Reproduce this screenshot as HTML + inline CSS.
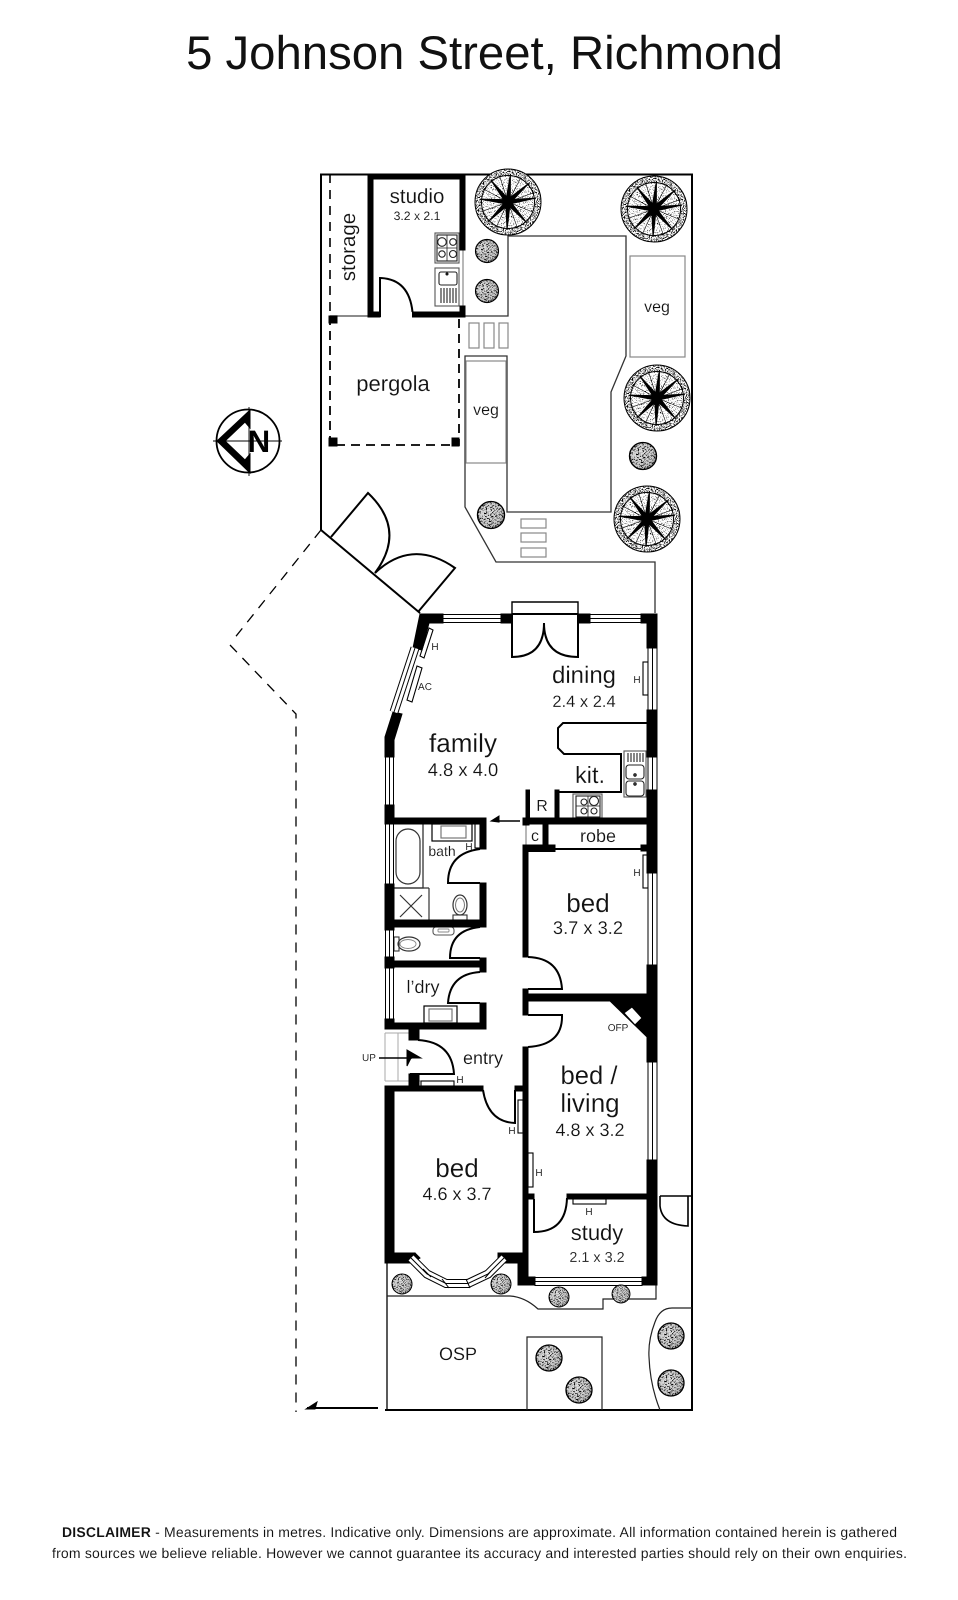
<!DOCTYPE html>
<html><head><meta charset="utf-8"><title>5 Johnson Street, Richmond</title>
<style>html,body{margin:0;padding:0;background:#fff}svg{display:block}
text{font-family:"Liberation Sans",sans-serif;fill:#111;text-anchor:middle;text-rendering:geometricPrecision;stroke:#fff;stroke-width:.14px}
text.t{stroke:none;fill:#111}text.n{stroke:none;fill:#000}text.s{stroke-width:.06px}</style></head>
<body>
<svg width="958" height="1600" viewBox="0 0 958 1600" xmlns="http://www.w3.org/2000/svg">
<defs>
<filter id="st" x="0" y="0" width="1" height="1"><feTurbulence type="fractalNoise" baseFrequency="0.85" numOctaves="2" seed="4"/><feColorMatrix values="0 0 0 0 0 0 0 0 0 0 0 0 0 0 0 7 0 0 0 -3.4"/><feComposite in2="SourceAlpha" operator="in"/></filter>
<filter id="st2" x="0" y="0" width="1" height="1"><feTurbulence type="fractalNoise" baseFrequency="0.9" numOctaves="2" seed="7"/><feColorMatrix values="0 0 0 0 0 0 0 0 0 0 0 0 0 0 0 7 0 0 0 -4.1"/><feComposite in2="SourceAlpha" operator="in"/></filter>
<filter id="st3" x="0" y="0" width="1" height="1"><feTurbulence type="fractalNoise" baseFrequency="0.85" numOctaves="2" seed="11"/><feColorMatrix values="0 0 0 0 0 0 0 0 0 0 0 0 0 0 0 6 0 0 0 -3.1"/><feComposite in2="SourceAlpha" operator="in"/></filter>
<path id="br" d="M0,-2.3 L28,0 L0,2.3Z" fill="#000"/>
<line id="sp" x1="3" y1="0" x2="28" y2="0" stroke="#000" stroke-width=".6"/>
<g id="tree">
<circle r="33" fill="#fff"/>
<circle r="33" fill="#000" filter="url(#st)"/>
<circle r="26.5" fill="#fff"/>
<circle r="26.5" fill="#000" filter="url(#st2)"/>
<use href="#sp" transform="rotate(22)"/><use href="#sp" transform="rotate(70)"/><use href="#sp" transform="rotate(115)"/><use href="#sp" transform="rotate(160)"/><use href="#sp" transform="rotate(208)"/><use href="#sp" transform="rotate(252)"/><use href="#sp" transform="rotate(298)"/><use href="#sp" transform="rotate(340)"/>
<use href="#br" transform="rotate(-8)"/><use href="#br" transform="rotate(48)"/><use href="#br" transform="rotate(92)"/><use href="#br" transform="rotate(135)"/><use href="#br" transform="rotate(186)"/><use href="#br" transform="rotate(232)"/><use href="#br" transform="rotate(275)"/><use href="#br" transform="rotate(318)"/>
<circle r="4" fill="#000"/>
</g>
<radialGradient id="sg" cx=".4" cy=".4" r=".7"><stop offset="0" stop-color="#e2e2e2"/><stop offset=".7" stop-color="#c8c8c8"/><stop offset="1" stop-color="#8a8a8a"/></radialGradient>
<g id="shrub"><circle r="10" fill="url(#sg)"/><circle r="10" fill="#000" filter="url(#st3)"/></g>
</defs>
<rect width="958" height="1600" fill="#fff"/>

<text class="t" x="484.5" y="69" font-size="47.3">5 Johnson Street, Richmond</text>

<!-- site boundary -->
<g fill="none" stroke="#000">
<path d="M321,530V174.5H692V1410H385" stroke-width="2"/>
<path d="M321,530L420,613" stroke-width="2"/>
<path d="M321,530L233,640M230,645L296,714V1412" stroke-width="1.3" stroke-dasharray="10 8"/>
<path d="M330,174V316" stroke-width="1.6" stroke-dasharray="9 7"/>
<path d="M330,316V445H459V316" stroke-width="1.8" stroke-dasharray="9 6"/>
<path d="M330,316H368" stroke="#666" stroke-width="1.4"/>
<!-- garden -->
<path d="M465,316H508V236H626V356L611,392V512H507V356H465V507L496,562H655V613" stroke="#333" stroke-width="1.3"/>
<path d="M387,1263V1410" stroke-width="1.3"/>
<path d="M387,1296H510Q525,1297 538,1309H603V1299H656V1285" stroke="#222" stroke-width="1.2"/>
<path d="M527,1410V1337H602V1410" stroke="#222" stroke-width="1.2"/>
<path d="M692,1308H672Q660,1308 655,1322Q648,1340 649,1357Q650,1385 660,1410" stroke="#222" stroke-width="1.2"/>
<path d="M307,1408H378" stroke-width="2"/>
<!-- grey rects -->
<g stroke="#888" stroke-width="1.2">
<rect x="630" y="256" width="55" height="101"/><rect x="466" y="361" width="40" height="102"/>
<rect x="469" y="323" width="10" height="25"/><rect x="484" y="323" width="10" height="25"/><rect x="499" y="323" width="9" height="25"/>
<rect x="521" y="519" width="25" height="9"/><rect x="521" y="533" width="25" height="9"/><rect x="521" y="548" width="25" height="9"/>
</g>
<!-- gate leaves -->
<g stroke-width="2">
<path d="M331,537L368,493Q407,530 375,573"/>
<path d="M418,612L455,568Q412,538 375,573"/>
<!-- studio door -->
<path d="M380,317V278Q409,279 412.5,312"/>
<!-- dining door -->
<path d="M512,614V602H578V614" stroke-width="1.4"/>
<path d="M512,614V657Q544,657 544,623Q544,657 578,657V614M512,614H578"/>
<!-- bath/wc/ldry doors -->
<path d="M480,849Q448,853 448,883H480"/>
<path d="M480,927Q450,930 450,958H480"/>
<path d="M480,972Q450,974 448,1003H480"/>
<!-- entry doors -->
<path d="M418,1040Q452,1042 454,1074H410"/>
<path d="M483,1090Q488,1122 515,1123V1090"/>
<!-- bed/living doors -->
<path d="M528,957Q560,958 562,989H528"/>
<path d="M528,1015H562Q563,1045 528,1047"/>
<path d="M534,1199V1232Q566,1232 567,1198"/>
<!-- gate side -->
<path d="M660,1196H692M660,1196V1206Q662,1225 688,1226V1196" stroke-width="1.6"/>
<!-- kitchen bench -->
<path d="M647,723H563L558,728V748L564,754H621V792H558"/>
<!-- robe -->
<path d="M555,849H642" stroke-width="2"/>
<path d="M526,825V846" stroke="#888" stroke-width="1.2"/>
<!-- arrow -->
<path d="M520,821H494" stroke-width="1.4"/>
<!-- bath fixtures -->
<path d="M423,824V888H394" stroke="#333" stroke-width="1.3"/>
<rect x="396" y="829" width="24" height="55" rx="12" stroke="#333" stroke-width="1.2"/>
<path d="M429,888V920M400,895L422,917M422,895L400,917" stroke="#333" stroke-width="1.2"/>
<path d="M394,888H429" stroke="#333" stroke-width="1.2"/>
<rect x="432" y="824" width="40" height="17" stroke-width="1.2"/>
<rect x="441" y="826" width="25" height="12" stroke="#777" stroke-width="1.2"/>
<rect x="475" y="824" width="5" height="24" stroke-width="1.1"/>
<ellipse cx="460" cy="905" rx="7" ry="10" stroke="#333" stroke-width="1.2"/>
<ellipse cx="460" cy="905" rx="4.5" ry="7" stroke="#777" stroke-width="1"/>
<rect x="453" y="915" width="14" height="5" stroke="#333" stroke-width="1.1"/>
<rect x="433" y="927" width="21" height="8" rx="3" stroke="#555" stroke-width="1.1"/>
<rect x="438" y="929" width="11" height="3" rx="1" stroke="#888" stroke-width=".9"/>
<rect x="394" y="937" width="5" height="14" stroke="#333" stroke-width="1.1"/>
<ellipse cx="409" cy="944" rx="11" ry="7" stroke="#333" stroke-width="1.2"/>
<ellipse cx="408" cy="944" rx="8" ry="4.5" stroke="#888" stroke-width=".9"/>
<rect x="424" y="1006" width="33" height="17" stroke-width="1.2"/>
<rect x="429" y="1009" width="23" height="12" stroke="#777" stroke-width="1.2"/>
<!-- stairs -->
<path d="M385,1033H410M385,1081H421M398,1033V1081M385,1033V1081" stroke="#aaa" stroke-width="1"/>
<!-- heaters -->
<g stroke-width="1.1">
<path d="M429,628L433,630L424,658L420,656Z"/><path d="M417,666L422,668L412,702L407,700Z"/>
<rect x="643" y="662" width="5" height="33"/><rect x="643" y="855" width="5" height="33"/>
<rect x="421" y="1081" width="33" height="5"/><rect x="518" y="1100" width="5" height="33"/>
<rect x="528" y="1153" width="5" height="34"/><rect x="573" y="1199" width="33" height="5"/>
</g>
<!-- studio appliances -->
<g stroke="#555" stroke-width="1.1">
<rect x="435" y="233" width="24" height="30"/><rect x="437" y="235" width="20" height="26" stroke="#222"/>
<rect x="435" y="268" width="24" height="38"/>
<rect x="439" y="272" width="18" height="13" rx="2" stroke="#222"/>
<path d="M441,288V303M444,288V303M447,288V303M450,288V303M453,288V303M456,288V303" stroke="#222"/>
<path d="M437,248H457M447,235V261" stroke="#222" stroke-width=".8"/>
<circle cx="442" cy="242" r="4.3" fill="#fff" stroke="#222"/><circle cx="453" cy="242" r="3.3" fill="#fff" stroke="#222"/>
<circle cx="442" cy="254" r="3.2" fill="#fff" stroke="#222"/><circle cx="453" cy="254" r="3.5" fill="#fff" stroke="#222"/>
<!-- kitchen appliances -->
<rect x="624" y="751" width="22" height="46"/>
<path d="M628,753V762M631,753V762M634,753V762M637,753V762M640,753V762M643,753V762" stroke="#222"/>
<rect x="626" y="765" width="18" height="14" rx="3" stroke="#222"/><rect x="626" y="781" width="18" height="15" rx="3" stroke="#222"/>
<rect x="573" y="794" width="29" height="24"/><rect x="576" y="796" width="24" height="21" stroke="#222"/>
<path d="M576,806H600M588,796V817" stroke="#222" stroke-width=".8"/>
<circle cx="584" cy="802" r="3" fill="#fff" stroke="#222"/><circle cx="594" cy="801" r="4.5" fill="#fff" stroke="#222"/>
<circle cx="584" cy="811" r="3" fill="#fff" stroke="#222"/><circle cx="594" cy="811" r="3" fill="#fff" stroke="#222"/>
</g>
<path d="M463,250V312" stroke="#888" stroke-width="1.2"/>
</g>
<circle cx="447" cy="274" r="1" fill="#777"/><circle cx="635" cy="775" r="1.2" fill="#777"/><circle cx="635" cy="784" r="1.2" fill="#777"/>

<!-- pergola posts, wall fills -->
<g fill="#000">
<rect x="329" y="316" width="8" height="7"/><rect x="329" y="438" width="8" height="8"/><rect x="452" y="438" width="7" height="8"/>
<!-- studio -->
<rect x="368" y="174" width="97" height="5"/><rect x="368" y="174" width="5" height="143"/>
<rect x="460" y="174" width="5" height="76"/><rect x="368" y="312" width="12" height="5"/><rect x="412.5" y="312" width="52.5" height="5"/><rect x="460" y="306" width="5" height="11"/>
<!-- north wall -->
<rect x="420" y="614" width="23" height="9"/><rect x="501" y="614" width="11" height="9"/><rect x="578" y="614" width="12" height="9"/><rect x="641" y="614" width="16" height="9"/>
<!-- east wall -->
<rect x="647" y="614" width="10" height="34"/><rect x="647" y="710" width="10" height="47"/><rect x="647" y="790" width="10" height="83"/>
<rect x="647" y="965" width="10" height="97"/><rect x="647" y="1160" width="10" height="125"/>
<!-- angled wall -->
<path d="M420,614L429,623L422,650L413,648Z"/>
<path d="M393,712L402,714L394,740V757H385V737Z"/>
<!-- west wall -->
<rect x="385" y="805" width="9" height="19"/><rect x="385" y="884" width="9" height="46"/><rect x="385" y="957" width="9" height="11"/><rect x="385" y="1019" width="9" height="10"/>
<rect x="385" y="818" width="101" height="6"/><rect x="480" y="818" width="6" height="31"/><rect x="480" y="883" width="6" height="44"/>
<rect x="394" y="920" width="92" height="7"/><rect x="385" y="961" width="101" height="6"/><rect x="480" y="958" width="6" height="14"/>
<rect x="480" y="1003" width="6" height="26"/><rect x="385" y="1023" width="101" height="6"/>
<rect x="409" y="1028" width="10" height="12"/><rect x="409" y="1074" width="10" height="12"/>
<rect x="385" y="1086" width="98" height="5"/><rect x="385" y="1086" width="9" height="177"/>
<rect x="515" y="1086" width="13" height="5"/>
<rect x="385" y="1253" width="30" height="10"/><rect x="498" y="1253" width="30" height="10"/>
<path d="M415,1253L420,1258L412,1263H405Z"/>
<!-- centre wall -->
<rect x="523" y="818" width="134" height="6"/><rect x="523" y="818" width="6" height="7"/>
<rect x="526" y="790" width="3.5" height="28"/><rect x="555" y="790" width="4" height="28"/>
<rect x="543" y="824" width="5" height="25"/><rect x="523" y="845" width="32" height="6.5"/><rect x="641" y="845" width="7" height="6"/>
<rect x="523" y="845" width="5" height="112"/>
<rect x="523" y="989" width="5" height="26"/><rect x="528" y="994" width="120" height="7"/>
<path d="M610,1001L622,994H648V1038Z"/>
<rect x="523" y="1047" width="5" height="208"/>
<rect x="528" y="1194" width="6" height="5"/><rect x="567" y="1194" width="81" height="5"/>
<rect x="518" y="1253" width="10" height="32"/><rect x="518" y="1277" width="17" height="8"/>
<rect x="642" y="1277" width="15" height="8"/><rect x="648" y="1190" width="9" height="90"/>
<!-- arrow heads -->
<path d="M491,821L499,816V822Z"/>
<path d="M306,1409L317,1402L315,1409Z"/>
<path d="M421,1058L407,1050V1066L411,1058Z"/>
</g>
<path d="M379,1058H412" stroke="#000" stroke-width="1.6"/>
<path d="M632,1007L642,1018L635,1025L624,1013Z" fill="#fff"/>

<!-- windows -->
<g fill="#fff" stroke="#000" stroke-width="1">
<rect x="443" y="614.5" width="58" height="8"/><rect x="590" y="614.5" width="51" height="8"/>
<rect x="648" y="648" width="9" height="62"/><rect x="648" y="757" width="9" height="33"/><rect x="648" y="873" width="9" height="92"/><rect x="648" y="1062" width="9" height="98"/>
<rect x="385.5" y="757" width="8" height="48"/><rect x="385.5" y="824" width="8" height="60"/><rect x="385.5" y="930" width="8" height="27"/><rect x="385.5" y="968" width="8" height="51"/>
<rect x="535" y="1277.5" width="107" height="8"/>
</g>
<g stroke="#000" stroke-width="1" fill="none">
<path d="M443,618.5H501M590,618.5H641M652.5,648V710M652.5,757V790M652.5,873V965M652.5,1062V1160M389.5,757V805M389.5,824V884M389.5,930V957M389.5,968V1019M535,1281.5H642"/>
<path d="M415,648L394,712" stroke-width="9"/><path d="M415,648L394,712" stroke="#fff" stroke-width="7"/><path d="M415,648L394,712"/>
<path d="M411,1258L427,1274L446,1283.5H468L488,1274L504,1258" stroke-width="9"/>
<path d="M411,1258L427,1274L446,1283.5H468L488,1274L504,1258" stroke="#fff" stroke-width="7"/>
<path d="M411,1258L427,1274L446,1283.5H468L488,1274L504,1258"/>
<path d="M423,1269L431,1277M442,1279L449,1288M466,1279L470,1288M485,1278L491,1271"/>
</g>

<!-- compass -->
<g>
<circle cx="248" cy="441" r="31.5" fill="none" stroke="#000" stroke-width="1.8"/>
<path d="M213,441H282M249,407V476" stroke="#000" stroke-width=".9"/>
<path d="M217,441L250,410V428L245,422L225,441L245,460L250,454V473Z" fill="#000"/>
<text class="n" x="259" y="452" font-size="31" font-weight="700">N</text>
</g>

<!-- trees and shrubs -->
<use href="#tree" x="508" y="202"/><use href="#tree" x="654" y="209"/><use href="#tree" x="657" y="398"/><use href="#tree" x="647" y="519"/>
<use href="#shrub" transform="translate(487,251) scale(1.15)"/><use href="#shrub" transform="translate(487,291) scale(1.15)"/>
<use href="#shrub" transform="translate(643,456) scale(1.35)"/><use href="#shrub" transform="translate(491,515) scale(1.35)"/>
<use href="#shrub" transform="translate(402,1284)"/><use href="#shrub" transform="translate(501,1284)"/>
<use href="#shrub" transform="translate(559,1297)"/><use href="#shrub" transform="translate(621,1294) scale(.9)"/>
<use href="#shrub" transform="translate(549,1358) scale(1.3)"/><use href="#shrub" transform="translate(579,1390) scale(1.3)"/>
<use href="#shrub" transform="translate(671,1336) scale(1.3)"/><use href="#shrub" transform="translate(671,1383) scale(1.3)"/>

<!-- labels -->
<text x="417" y="203" font-size="20.5">studio</text>
<text class="s" x="417" y="220" font-size="12.2">3.2 x 2.1</text>
<text transform="translate(355,247) rotate(-90)" font-size="20.5">storage</text>
<text x="393" y="391" font-size="22">pergola</text>
<text x="657" y="312" font-size="16">veg</text>
<text x="486" y="415" font-size="16">veg</text>
<text x="584" y="683" font-size="24">dining</text>
<text x="584" y="707" font-size="16.5">2.4 x 2.4</text>
<text x="463" y="752" font-size="26">family</text>
<text x="463" y="776" font-size="18.4">4.8 x 4.0</text>
<text x="590" y="783" font-size="23.5">kit.</text>
<text x="542" y="811" font-size="16">R</text>
<text x="535" y="841" font-size="16">c</text>
<text x="598" y="842" font-size="18">robe</text>
<text x="442" y="856" font-size="14">bath</text>
<text x="588" y="912" font-size="26">bed</text>
<text x="588" y="934" font-size="18.3">3.7 x 3.2</text>
<text x="423" y="993" font-size="18">l’dry</text>
<text x="483" y="1064" font-size="18">entry</text>
<text class="s" x="369" y="1061" font-size="10">UP</text>
<text x="589" y="1084" font-size="25.6">bed /</text>
<text x="590" y="1112" font-size="26">living</text>
<text x="590" y="1136" font-size="18">4.8 x 3.2</text>
<text class="s" x="618" y="1031" font-size="10">OFP</text>
<text x="457" y="1177" font-size="26">bed</text>
<text x="457" y="1200" font-size="18">4.6 x 3.7</text>
<text x="597" y="1240" font-size="22">study</text>
<text x="597" y="1262" font-size="14.4">2.1 x 3.2</text>
<text x="458" y="1360" font-size="18">OSP</text>
<g font-size="10">
<text class="s" x="435" y="650">H</text><text class="s" x="425" y="690">AC</text><text class="s" x="637" y="683">H</text><text class="s" x="469" y="850">H</text><text class="s" x="637" y="876">H</text>
<text class="s" x="460" y="1083">H</text><text class="s" x="512" y="1134">H</text><text class="s" x="539" y="1176">H</text><text class="s" x="589" y="1215">H</text>
</g>

<text class="s" x="479.5" y="1537" font-size="14" textLength="835" lengthAdjust="spacing"><tspan font-weight="700">DISCLAIMER</tspan> - Measurements in metres. Indicative only. Dimensions are approximate. All information contained herein is gathered</text>
<text class="s" x="479.5" y="1558" font-size="14" textLength="855" lengthAdjust="spacing">from sources we believe reliable. However we cannot guarantee its accuracy and interested parties should rely on their own enquiries.</text>
</svg>
</body></html>
